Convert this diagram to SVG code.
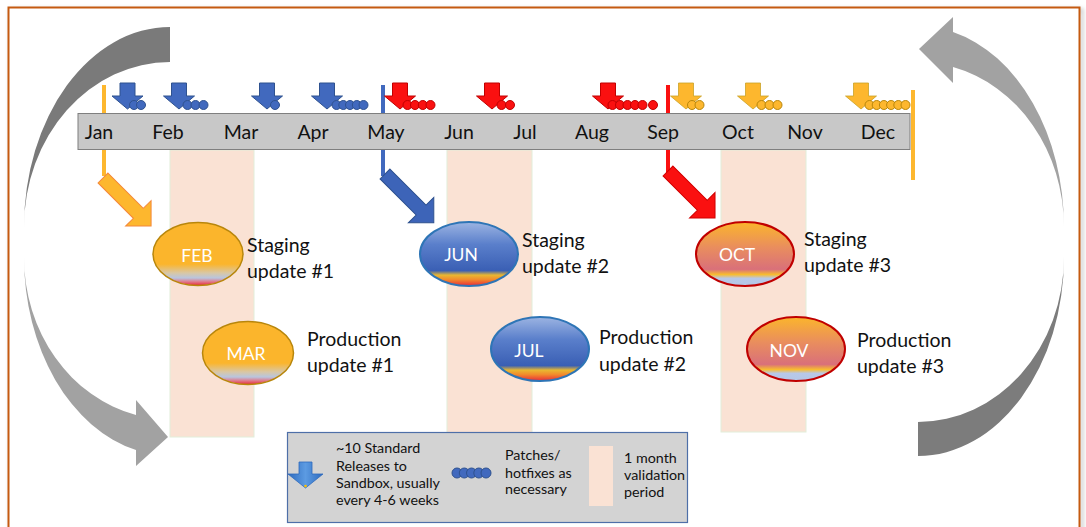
<svg xmlns="http://www.w3.org/2000/svg" width="1086" height="527" viewBox="0 0 1086 527">
<defs>
<style>
.lbl{font-family:Lato,"Liberation Sans",sans-serif;font-size:19.5px;fill:#111}
.mon{font-family:Lato,"Liberation Sans",sans-serif;font-size:19.5px;fill:#111;text-anchor:middle}
.el{font-family:Lato,"Liberation Sans",sans-serif;font-size:17.5px;fill:#fff;text-anchor:middle}
.lg{font-family:Lato,"Liberation Sans",sans-serif;font-size:14.3px;fill:#111}
.col{fill:#FAE2D4;stroke:#E2EEDA;stroke-width:1}
.b{fill:#4169BE;stroke:#2F528F;stroke-width:1}
.r{fill:#FA1010;stroke:#C00000;stroke-width:1}
.o{fill:#FDB72E;stroke:#B8860B;stroke-width:1}
.ob{fill:#FDB72E;stroke:#C9A227;stroke-width:0.8}
</style>
<path id="dn" d="M-7.5,0 H7.5 V13 H15.5 L0,26 L-15.5,13 H-7.5 Z"/>
<linearGradient id="gFeb" x1="0" y1="0" x2="0" y2="1">
<stop offset="0" stop-color="#FBB52C"/><stop offset="0.66" stop-color="#FBB52C"/><stop offset="0.8" stop-color="#D9C7A4"/><stop offset="0.88" stop-color="#B9C5DE"/><stop offset="0.94" stop-color="#E07A8C"/><stop offset="1" stop-color="#E8283A"/>
</linearGradient>
<linearGradient id="gJun" x1="0" y1="0" x2="0" y2="1">
<stop offset="0" stop-color="#9CB4E2"/><stop offset="0.35" stop-color="#5A7FCB"/><stop offset="0.76" stop-color="#3A5FB4"/><stop offset="0.83" stop-color="#E9B831"/><stop offset="0.9" stop-color="#F28A2C"/><stop offset="1" stop-color="#E8283A"/>
</linearGradient>
<linearGradient id="gOct" x1="0" y1="0" x2="0" y2="1">
<stop offset="0" stop-color="#FBB52C"/><stop offset="0.4" stop-color="#E98D5E"/><stop offset="0.74" stop-color="#D9707A"/><stop offset="0.82" stop-color="#F8BC30"/><stop offset="0.88" stop-color="#B8C8E8"/><stop offset="1" stop-color="#B4C7E7"/>
</linearGradient>
<linearGradient id="gLeg" x1="0" y1="0" x2="1" y2="0">
<stop offset="0" stop-color="#2E6BBE"/><stop offset="0.5" stop-color="#5C9BE2"/><stop offset="1" stop-color="#2E6BBE"/>
</linearGradient>
<filter id="sh" x="-5%" y="-5%" width="110%" height="110%"><feGaussianBlur stdDeviation="2"/></filter>
</defs>
<rect width="1086" height="527" fill="#fff"/>
<rect x="11" y="10" width="1071" height="530" fill="none" stroke="#000" stroke-opacity="0.22" stroke-width="3" filter="url(#sh)"/>
<rect x="8.5" y="7.5" width="1071" height="530" fill="#fff" stroke="#C55A11" stroke-width="2"/>

<g id="validation-periods">
<rect class="col" x="170" y="150" width="84" height="287"/>
<rect class="col" x="447" y="150" width="85" height="283"/>
<rect class="col" x="721" y="150" width="85" height="282"/>
</g>

<g id="connectors">
<path d="M170,27 A146,200 0 0 0 24,227 A146,165 0 0 1 170,62 Z" fill="#7A7A7A"/>
<path d="M24,257 A146,198 0 0 0 136,450 L136,466 L168,437 L136,400 L136,415 A146,162 0 0 1 24,257 Z" fill="#A2A2A2"/>
<path d="M1064,227 A146,201 0 0 0 953,32 L953,17 L919,49 L953,83 L953,67 A146,165 0 0 1 1064,227 Z" fill="#A2A2A2"/>
<path d="M1064,257 A146,199 0 0 1 918,456 L918,422 A146,165 0 0 0 1064,257 Z" fill="#7C7C7C"/>
<line x1="104" y1="85" x2="104" y2="176" stroke="#FDB72E" stroke-width="4"/>
<line x1="383" y1="85" x2="383" y2="176" stroke="#4169BE" stroke-width="4"/>
<line x1="668" y1="85" x2="668" y2="176" stroke="#FA1010" stroke-width="4"/>
<line x1="913" y1="90" x2="913" y2="180" stroke="#FDB72E" stroke-width="4"/>
<path transform="translate(103,178) rotate(45)" d="M0,-7 H50 V-18 L68,0 L50,18 V7 H0 Z" fill="#FDB72E" stroke="#F4883A" stroke-width="1"/>
<path transform="translate(385,174) rotate(45)" d="M0,-7 H51 V-18 L69,0 L51,18 V7 H0 Z" fill="#3D64B8" stroke="#2F528F" stroke-width="1"/>
<path transform="translate(668,171) rotate(45)" d="M0,-7 H48.5 V-18 L66.5,0 L48.5,18 V7 H0 Z" fill="#FA1010" stroke="#D00000" stroke-width="1"/>
</g>

<g id="timeline">
<rect x="78" y="113.5" width="832" height="36" fill="#C8C8C8" stroke="#7F7F7F" stroke-width="1"/>
<text class="mon" x="99" y="139">Jan</text>
<text class="mon" x="168" y="139">Feb</text>
<text class="mon" x="241" y="139">Mar</text>
<text class="mon" x="313" y="139">Apr</text>
<text class="mon" x="386" y="139">May</text>
<text class="mon" x="459" y="139">Jun</text>
<text class="mon" x="525" y="139">Jul</text>
<text class="mon" x="592" y="139">Aug</text>
<text class="mon" x="663" y="139">Sep</text>
<text class="mon" x="738" y="139">Oct</text>
<text class="mon" x="805" y="139">Nov</text>
<text class="mon" x="878" y="139">Dec</text>
</g>

<g id="releases">
<use href="#dn" x="127.5" y="83" class="b"/><circle class="b" cx="134" cy="105" r="4.5"/><circle class="b" cx="141" cy="105" r="4.5"/>
<use href="#dn" x="179" y="83" class="b"/><circle class="b" cx="187.5" cy="105" r="4.5"/><circle class="b" cx="195.5" cy="105" r="4.5"/><circle class="b" cx="203.5" cy="105" r="4.5"/>
<use href="#dn" x="267" y="83" class="b"/><circle class="b" cx="275" cy="105" r="4.5"/>
<use href="#dn" x="327" y="83" class="b"/><circle class="b" cx="336.5" cy="105" r="4.5"/><circle class="b" cx="343.3" cy="105" r="4.5"/><circle class="b" cx="350" cy="105" r="4.5"/><circle class="b" cx="356.8" cy="105" r="4.5"/><circle class="b" cx="363.5" cy="105" r="4.5"/>
<use href="#dn" x="400" y="83" class="r"/><circle class="r" cx="407.5" cy="105" r="4.5"/><circle class="r" cx="415" cy="105" r="4.5"/><circle class="r" cx="422.8" cy="105" r="4.5"/><circle class="r" cx="430.5" cy="105" r="4.5"/>
<use href="#dn" x="492" y="83" class="r"/><circle class="r" cx="501.5" cy="105" r="4.5"/><circle class="r" cx="510" cy="105" r="4.5"/>
<use href="#dn" x="608" y="83" class="r"/><circle class="r" cx="612.5" cy="105" r="4.5"/><circle class="r" cx="620" cy="105" r="4.5"/><circle class="r" cx="627.5" cy="105" r="4.5"/><circle class="r" cx="635" cy="105" r="4.5"/><circle class="r" cx="642.5" cy="105" r="4.5"/><circle class="r" cx="653" cy="105" r="4.5"/>
<use href="#dn" x="686" y="83" class="ob"/><circle class="o" cx="692" cy="105" r="4.5"/><circle class="o" cx="699.5" cy="105" r="4.5"/>
<use href="#dn" x="753" y="83" class="ob"/><circle class="o" cx="761.5" cy="105" r="4.5"/><circle class="o" cx="769.5" cy="105" r="4.5"/><circle class="o" cx="777.5" cy="105" r="4.5"/>
<use href="#dn" x="861" y="83" class="ob"/><circle class="o" cx="869.5" cy="105" r="4.5"/><circle class="o" cx="876.7" cy="105" r="4.5"/><circle class="o" cx="883.9" cy="105" r="4.5"/><circle class="o" cx="891.1" cy="105" r="4.5"/><circle class="o" cx="898.3" cy="105" r="4.5"/><circle class="o" cx="905.5" cy="105" r="4.5"/>
</g>

<g id="feb">
<ellipse cx="198" cy="254" rx="45" ry="31.5" fill="url(#gFeb)" stroke="#B8860B" stroke-width="1.5"/>
<text class="el" x="197" y="262">FEB</text>
<text class="lbl" x="247" y="252">Staging</text><text class="lbl" x="247" y="278">update #1</text>
</g>
<g id="mar">
<ellipse cx="248" cy="353" rx="45.5" ry="31.5" fill="url(#gFeb)" stroke="#B8860B" stroke-width="1.5"/>
<text class="el" x="246" y="360">MAR</text>
<text class="lbl" x="307" y="346">Production</text><text class="lbl" x="307" y="372">update #1</text>
</g>
<g id="jun">
<ellipse cx="469" cy="254" rx="49" ry="32" fill="url(#gJun)" stroke="#2E75B6" stroke-width="2"/>
<text class="el" x="461" y="261">JUN</text>
<text class="lbl" x="522" y="247">Staging</text><text class="lbl" x="522" y="273">update #2</text>
</g>
<g id="jul">
<ellipse cx="540" cy="349" rx="49" ry="32" fill="url(#gJun)" stroke="#2E75B6" stroke-width="2"/>
<text class="el" x="529" y="357">JUL</text>
<text class="lbl" x="599" y="344">Production</text><text class="lbl" x="599" y="371">update #2</text>
</g>
<g id="oct">
<ellipse cx="745" cy="254" rx="49" ry="32" fill="url(#gOct)" stroke="#C00000" stroke-width="2"/>
<text class="el" x="737" y="261">OCT</text>
<text class="lbl" x="804" y="246">Staging</text><text class="lbl" x="804" y="272">update #3</text>
</g>
<g id="nov">
<ellipse cx="796" cy="349" rx="49" ry="32" fill="url(#gOct)" stroke="#C00000" stroke-width="2"/>
<text class="el" x="789" y="357">NOV</text>
<text class="lbl" x="857" y="347">Production</text><text class="lbl" x="857" y="373">update #3</text>
</g>

<g id="legend">
<rect x="287.5" y="432.5" width="400" height="90" fill="#D3D3D3" stroke="#4E6FA8" stroke-width="1.2"/>
<path d="M299,462 H312 V474 H323 L305.5,488 L288,474 H299 Z" fill="url(#gLeg)" stroke="#2E6BBE" stroke-width="0.8"/>
<circle cx="305.5" cy="486" r="1.3" fill="#FFC000"/>
<text class="lg" x="336" y="453">~10 Standard</text>
<text class="lg" x="336" y="471">Releases to</text>
<text class="lg" x="336" y="488">Sandbox, usually</text>
<text class="lg" x="336" y="505">every 4-6 weeks</text>
<circle class="b" cx="457" cy="473" r="5"/><circle class="b" cx="464.3" cy="473" r="5"/><circle class="b" cx="471.5" cy="473" r="5"/><circle class="b" cx="478.8" cy="473" r="5"/><circle class="b" cx="486" cy="473" r="5"/>
<text class="lg" x="505" y="460">Patches/</text>
<text class="lg" x="505" y="478">hotfixes as</text>
<text class="lg" x="505" y="494">necessary</text>
<rect x="589" y="446" width="24" height="60" fill="#FAE2D4"/>
<text class="lg" x="624" y="463">1 month</text>
<text class="lg" x="624" y="480">validation</text>
<text class="lg" x="624" y="497">period</text>
</g>
</svg>
